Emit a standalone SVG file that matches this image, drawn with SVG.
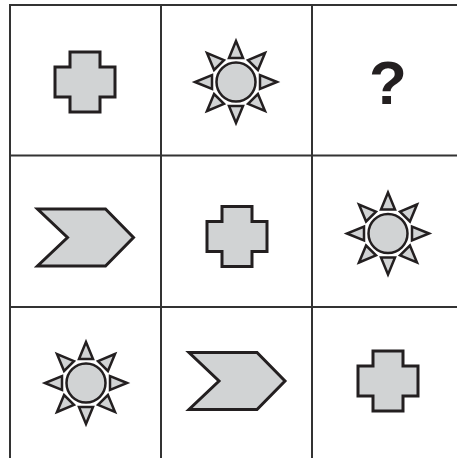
<svg xmlns="http://www.w3.org/2000/svg" xmlns:xlink="http://www.w3.org/1999/xlink" width="457" height="458" viewBox="0 0 457 458">
<style>
.grid{stroke:#333;stroke-width:2;fill:none}
.shape{fill:#d1d3d4;stroke:#231f20;stroke-width:3;stroke-linejoin:miter}
.sun{fill:#d1d3d4;stroke:#231f20;stroke-width:2.5;stroke-linejoin:miter}
.q{font-family:"Liberation Sans",Arial,sans-serif;font-weight:bold;font-size:62px;fill:#231f20}
</style>
<defs>
<path id="cross" class="shape" d="M-15,-30 H15 V-15 H30 V15 H15 V30 H-15 V15 H-30 V-15 H-15 Z"/>
<path id="chevron" class="shape" d="M-48,-28.5 H20 L48,0 L20,28.5 H-48 L-18,0 Z"/>
<polygon id="ray" points="0,-41 -7,-24 7,-24"/>
<g id="sun" class="sun">
<use xlink:href="#ray"/>
<use xlink:href="#ray" transform="rotate(45)"/>
<use xlink:href="#ray" transform="rotate(90)"/>
<use xlink:href="#ray" transform="rotate(135)"/>
<use xlink:href="#ray" transform="rotate(180)"/>
<use xlink:href="#ray" transform="rotate(225)"/>
<use xlink:href="#ray" transform="rotate(270)"/>
<use xlink:href="#ray" transform="rotate(315)"/>
<circle r="19.5"/>
</g>
</defs>
<rect width="457" height="458" fill="#fff"/>
<g id="grid" class="grid">
<line x1="9" y1="5" x2="457" y2="5"/>
<line x1="9" y1="155.5" x2="457" y2="155.5"/>
<line x1="9" y1="307" x2="457" y2="307"/>
<line x1="10" y1="5" x2="10" y2="458"/>
<line x1="161" y1="5" x2="161" y2="458"/>
<line x1="312" y1="5" x2="312" y2="458"/>
</g>
<g id="r1c1"><use xlink:href="#cross" x="85" y="82"/></g>
<g id="r1c2"><use xlink:href="#sun" transform="translate(236,82)"/></g>
<g id="r1c3"><text class="q" x="388" y="104" text-anchor="middle">?</text></g>
<g id="r2c1"><use xlink:href="#chevron" transform="translate(85.5,237.5)"/></g>
<g id="r2c2"><use xlink:href="#cross" x="237" y="236.5"/></g>
<g id="r2c3"><use xlink:href="#sun" transform="translate(388,233.5)"/></g>
<g id="r3c1"><use xlink:href="#sun" transform="translate(86,383)"/></g>
<g id="r3c2"><use xlink:href="#chevron" transform="translate(237,381)"/></g>
<g id="r3c3"><use xlink:href="#cross" x="388" y="381"/></g>
</svg>
